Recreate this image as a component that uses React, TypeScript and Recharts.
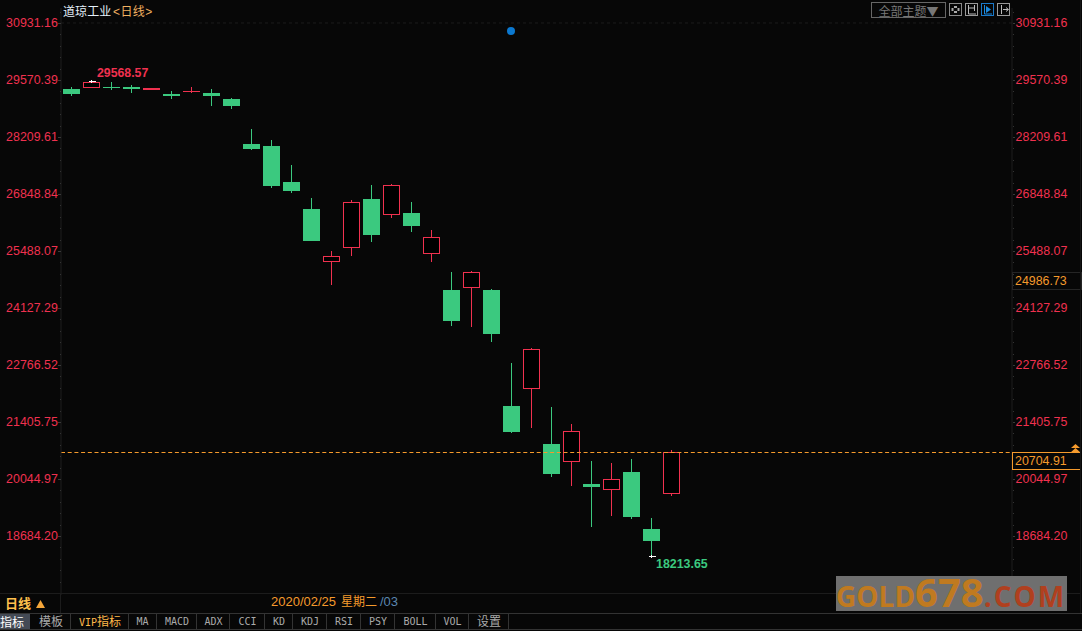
import { Bar, ComposedChart, ReferenceDot, ReferenceLine, XAxis, YAxis } from 'recharts'

const W = 1082
const H = 631
const LEFT_AXIS = 61
const RIGHT_AXIS = 1012

const RED = '#f0314f'
const GREEN = '#3bc97f'
const ORANGE = '#f59a2c'
const BG = '#070707'
const CJK = "'Liberation Sans', 'Noto Sans CJK SC', sans-serif"

const dates = [
  '02/10', '02/11', '02/12', '02/13', '02/14', '02/18', '02/19', '02/20', '02/21', '02/24', '02/25',
  '02/26', '02/27', '02/28', '03/02', '03/03', '03/04', '03/05', '03/06', '03/09', '03/10',
  '03/11', '03/12', '03/13', '03/16', '03/17', '03/18', '03/19', '03/20', '03/23', '03/24',
]
const opens = [
  29355, 29386, 29403, 29403, 29332, 29236, 29284, 29260, 29117, 28042, 27995,
  27135, 26491, 25233, 25567, 26730, 26348, 26395, 25417, 24557, 24612,
  24557, 21788, 22201, 20881, 20458, 19926, 19790, 20212, 18851, 19694,
]
const highs = [
  29403, 29568.57, 29515, 29451, 29379, 29308, 29403, 29355, 29141, 28401, 28138,
  27541, 26753, 25488, 26706, 27064, 27088, 26658, 25989, 24987, 25011,
  24581, 22814, 23172, 21764, 21358, 20475, 20427, 20522, 19114, 20737,
]
const lows = [
  29188, 29386, 29332, 29260, 29332, 29117, 29260, 28950, 28878, 27899, 26992,
  26873, 25727, 24676, 25369, 25703, 26276, 25942, 25225, 23698, 23674,
  23316, 21143, 21263, 20093, 19878, 18899, 19162, 19090, 18213.65, 19639,
]
const closes = [
  29236, 29515, 29379, 29355, 29379, 29188, 29308, 29188, 28950, 27923, 27040,
  26920, 25727, 25369, 26658, 25870, 27064, 26085, 25822, 23817, 24987,
  23507, 21167, 23149, 20164, 21191, 19854, 20045, 19138, 18565, 20685,
]
const priceTicks = [
  30931.16, 29570.39, 28209.61, 26848.84, 25488.07, 24127.29, 22766.52, 21405.75, 20044.97, 18684.2,
]
const lastPrice = 20704.91
const emptyDays = 16

const tabs = ['MA', 'MACD', 'ADX', 'CCI', 'KD', 'KDJ', 'RSI', 'PSY', 'BOLL', 'VOL']
const tabWidths = [29, 40, 33, 35, 28, 34, 34, 34, 41, 33]

const rows = dates.map((date, i) => ({
  date,
  range: [lows[i], highs[i]],
  body: [Math.min(opens[i], closes[i]), Math.max(opens[i], closes[i])],
  up: closes[i] >= opens[i],
}))
for (let i = 0; i < emptyDays; i++) rows.push({ date: `+${i}`, range: null as any, body: null as any, up: false })

// axis carries every fifth of a step as a faint minor mark
const minorStep = (priceTicks[0] - priceTicks[1]) / 5
const minorTicks: number[] = []
for (let v = priceTicks[0] + minorStep; v < 31270; v += minorStep) minorTicks.push(v)
for (let v = priceTicks[0] - minorStep; v > 17300; v -= minorStep) {
  if (!priceTicks.some(t => Math.abs(t - v) < 1)) minorTicks.push(v)
}
const allTicks = [...priceTicks, ...minorTicks].sort((a, b) => b - a)
const isMajor = (v: number) => priceTicks.includes(v)

const Wick = ({ x, y, width, height, payload }: any) => {
  if (!Number.isFinite(height) || !payload) return null
  const top = Math.round(y)
  return (
    <rect x={Math.floor(x)} y={top} width={1} height={Math.max(1, Math.round(y + height) - top)}
      fill={payload.up ? RED : GREEN} shapeRendering="crispEdges" />
  )
}

const Body = ({ x, y, width, height, payload }: any) => {
  if (!Number.isFinite(height) || !payload) return null
  const left = Math.floor(x)
  const top = Math.round(y)
  const h = Math.max(1, Math.round(y + height) - top)
  if (!payload.up) return <rect x={left} y={top} width={width} height={h} fill={GREEN} shapeRendering="crispEdges" />
  if (h < 2) return <rect x={left} y={top} width={width} height={h} fill={RED} shapeRendering="crispEdges" />
  return (
    <rect x={left + 0.5} y={top + 0.5} width={width - 1} height={h - 1} fill="#000" stroke={RED} strokeWidth={1} shapeRendering="crispEdges" />
  )
}

const Cross = ({ cx, cy }: any) => {
  const fx = Math.floor(cx)
  const fy = Math.ceil(cy)
  return <path d={`M${fx - 2} ${fy + 0.5}H${fx + 5}M${fx + 0.5} ${fy - 1}V${fy + 2}`} stroke="#fff" strokeWidth={1} shapeRendering="crispEdges" />
}

const LastLine = ({ x1, x2, y1 }: any) => (
  <line x1={x1} x2={x2} y1={Math.ceil(y1) + 0.5} y2={Math.ceil(y1) + 0.5} stroke={ORANGE} strokeDasharray="4 2.7" />
)

const LeftTick = ({ y, payload }: any) => {
  const major = isMajor(payload.value)
  const row = Math.round(y) + 0.5
  return (
    <g>
      <line x1={major ? LEFT_AXIS - 3 : LEFT_AXIS - 1} x2={LEFT_AXIS} y1={row} y2={row} stroke={major ? '#3a3a3a' : '#333'} />
      {major && <text x={57.8} y={y + 4} textAnchor="end" fill={RED} fontSize={12.4} fontFamily="Liberation Sans">{payload.value.toFixed(2)}</text>}
    </g>
  )
}

const RightTick = ({ y, payload }: any) => {
  const major = isMajor(payload.value)
  const row = Math.round(y) + 0.5
  return (
    <g>
      <line x1={RIGHT_AXIS + 1} x2={major ? RIGHT_AXIS + 3 : RIGHT_AXIS + 2} y1={row} y2={row} stroke={major ? '#3a3a3a' : '#333'} />
      {major && <text x={1015.6} y={y + 4} textAnchor="start" fill={RED} fontSize={12.4} fontFamily="Liberation Sans">{payload.value.toFixed(2)}</text>}
    </g>
  )
}

function Label({ x, y, color, size = 12, bold, spacing, children }: any) {
  return (
    <div style={{ position: 'absolute', left: x, top: y, color, fontSize: size, fontWeight: bold ? 700 : 400, letterSpacing: spacing, lineHeight: '14px', whiteSpace: 'nowrap', fontFamily: CJK }}>
      {children}
    </div>
  )
}

function Candles() {
  return (
    <ComposedChart width={W} height={H} data={rows} margin={{ top: 8, right: 0, bottom: 36, left: 0 }} barGap={0}>
      <XAxis xAxisId="wick" dataKey="date" hide padding={{ left: 0, right: 11 }} />
      <XAxis xAxisId="body" dataKey="date" hide padding={{ left: 0, right: 11 }} />
      <YAxis
        yAxisId="left"
        width={LEFT_AXIS}
        domain={[17275.8, 31289.2]}
        allowDataOverflow
        ticks={allTicks}
        interval={0}
        axisLine={{ stroke: '#1e1e1e' }}
        tickLine={false}
        tick={LeftTick as any}
      />
      <YAxis
        yAxisId="right"
        orientation="right"
        width={W - RIGHT_AXIS}
        domain={[17275.8, 31289.2]}
        allowDataOverflow
        ticks={allTicks}
        interval={0}
        axisLine={{ stroke: '#1e1e1e' }}
        tickLine={false}
        tick={RightTick as any}
      />
      <ReferenceLine xAxisId="wick" yAxisId="left" y={30931.16} stroke="#1c1c1c" strokeDasharray="3 3" />
      <Bar xAxisId="wick" yAxisId="left" dataKey="range" barSize={1} isAnimationActive={false} shape={Wick} />
      <Bar xAxisId="body" yAxisId="left" dataKey="body" barSize={17} isAnimationActive={false} shape={Body} />
      <ReferenceLine xAxisId="wick" yAxisId="left" y={lastPrice} shape={LastLine} />
      <ReferenceDot xAxisId="wick" yAxisId="left" x="03/12" y={30740} r={4} fill="#0b78cf" stroke="none" />
      <ReferenceDot xAxisId="wick" yAxisId="left" x="02/11" y={29568.57} shape={Cross} />
      <ReferenceDot xAxisId="wick" yAxisId="left" x="03/23" y={18213.65} shape={Cross} />
    </ComposedChart>
  )
}

function Icon({ x, color, children }: any) {
  return (
    <svg style={{ position: 'absolute', left: x, top: 3 }} width={13} height={13} viewBox="0 0 13 13">
      <rect x={0.5} y={0.5} width={12} height={12} fill="none" stroke={color} />
      {children}
    </svg>
  )
}

export default function App() {
  let tabX = 128
  return (
    <div style={{ position: 'absolute', left: 0, top: 0, width: W, height: H, background: BG }}>
      <Candles />

      <Label x={63} y={5} color="#e4f0fa" spacing="0.1px">道琼工业</Label>
      <Label x={113} y={5} color="#f0b060" spacing="0.4px">&lt;日线&gt;</Label>
      <Label x={97} y={66} color={RED} size={12.3} bold>29568.57</Label>
      <Label x={656} y={557} color={GREEN} size={12.4} bold>18213.65</Label>

      <div style={{ position: 'absolute', left: 871, top: 2, width: 73, height: 14, border: '1px solid #666', color: '#777', fontSize: 12, lineHeight: '15px', textAlign: 'center', fontFamily: "'Noto Sans CJK SC'" }}>全部主题▼</div>
      <Icon x={949} color="#888">
        <path d="M5 3h3v2H5zM5 8h3v2H5zM2.500 5h2v3h-2zM8.500 5h2v3h-2z" fill="#aaa" />
      </Icon>
      <Icon x={965} color="#999">
        <path d="M3.500 2v9H11M9.500 2v6M3.500 5H9" stroke="#bbb" fill="none" />
      </Icon>
      <Icon x={981} color="#1a78c8">
        <path d="M3.500 2v9H11" stroke="#1a8ae0" fill="none" />
        <path d="M5 3l5 3.500L5 10z" fill="#1a8ae0" />
      </Icon>
      <Icon x={997} color="#999">
        <path d="M4.500 2v9M6 6.500h5M9 4.500l2.500 2-2.500 2" stroke="#bbb" fill="none" />
      </Icon>

      <div style={{ position: 'absolute', left: 1012, top: 272, width: 68, height: 16, border: '1px solid #252525' }} />
      <Label x={1015} y={274} color={ORANGE} size={12.4}>24986.73</Label>
      <div style={{ position: 'absolute', left: 1012, top: 452, width: 67, height: 16, border: `1px solid ${ORANGE}`, background: BG }} />
      <Label x={1015} y={454} color={ORANGE} size={12.4}>20704.91</Label>
      <svg style={{ position: 'absolute', left: 1070, top: 444 }} width={11} height={9}>
        <path d="M5.500 0L10 4H1zM5.500 4L11 9H0z" fill={ORANGE} />
      </svg>

      <div style={{ position: 'absolute', left: 0, top: 593, width: 1080, height: 1, background: '#1c1c1c' }} />
      <div style={{ position: 'absolute', left: 60, top: 593, width: 1, height: 20, background: '#1c1c1c' }} />
      <div style={{ position: 'absolute', left: 1080, top: 0, width: 1, height: 613, background: '#161616' }} />
      <Label x={5} y={597} color="#ffc04d" size={13} bold>日线</Label>
      <svg style={{ position: 'absolute', left: 36, top: 600 }} width={9} height={8}>
        <path d="M4.500 0L9 8H0z" fill="#f5a63a" />
      </svg>
      <Label x={271} y={595} color={ORANGE} size={13}>2020/02/25</Label>
      <Label x={341} y={595} color={ORANGE} size={12}>星期二</Label>
      <Label x={380} y={595} color="#5a86b0" size={13}>/03</Label>

      <div style={{ position: 'absolute', left: 0, top: 613, width: W, height: 15, borderTop: '1px solid #333', borderBottom: '1px solid #333' }} />
      <div style={{ position: 'absolute', left: 0, top: 614, width: 30, height: 15, background: '#444a55', color: '#fff', fontSize: 12, lineHeight: '15px', fontFamily: "'Noto Sans CJK SC'" }}>指标</div>
      <Label x={39} y={615} color="#aaa">模板</Label>
      <div style={{ position: 'absolute', left: 70, top: 614, width: 1, height: 15, background: '#333' }} />
      <Label x={79} y={615} color="#ffb84a">
        <span style={{ fontFamily: "'DejaVu Sans Mono'", fontSize: 10 }}>VIP</span>指标
      </Label>
      <div style={{ position: 'absolute', left: 128, top: 614, width: 1, height: 15, background: '#333' }} />
      {tabs.map((t, i) => {
        const left = tabX
        tabX += tabWidths[i]
        return (
          <div key={t} style={{ position: 'absolute', left: left + 1, top: 614, width: tabWidths[i] - 2, height: 15, borderRight: '1px solid #333', color: '#aaa', fontSize: 10, lineHeight: '15px', textAlign: 'center', fontFamily: "'DejaVu Sans Mono'" }}>{t}</div>
        )
      })}
      <Label x={477} y={615} color="#aaa">设置</Label>
      <div style={{ position: 'absolute', left: 508, top: 614, width: 1, height: 15, background: '#333' }} />

      <div style={{ position: 'absolute', left: 836, top: 576, width: 231, height: 35, background: '#6f6f6f' }} />
      <div style={{ position: 'absolute', left: 836, top: 569, whiteSpace: 'nowrap', fontFamily: "'Open Sans'", fontWeight: 700, lineHeight: '45px', height: 45 }}>
        <span style={{ color: '#c07a20', fontSize: 28 }}>GOLD</span>
        <span style={{ color: '#c07a20', fontSize: 40 }}>678</span>
        <span style={{ color: '#b0401f', fontSize: 28, letterSpacing: 2 }}>.COM</span>
      </div>
    </div>
  )
}
